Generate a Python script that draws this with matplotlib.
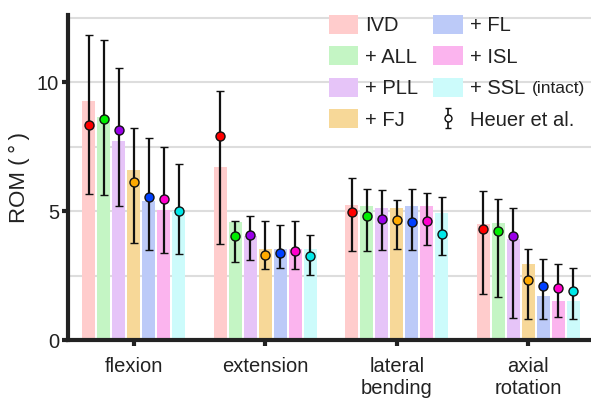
import numpy as np
import matplotlib
matplotlib.use("Agg")
import matplotlib.pyplot as plt
from matplotlib.ticker import MultipleLocator

plt.rcParams['font.family'] = ['Liberation Sans', 'DejaVu Sans']

motions = ["flexion", "extension", "lateral\nbending", "axial\nrotation"]
stages = ["IVD", "+ ALL", "+ PLL", "+ FJ", "+ FL", "+ ISL", "+ SSL"]

# model ROM (bars)
rom_ivd = [9.27, 6.69, 5.24, 4.48]
rom_all = [8.66, 4.56, 5.21, 4.53]
rom_pll = [7.72, 4.03, 5.11, 3.91]
rom_fj = [6.60, 3.54, 5.11, 2.93]
rom_fl = [5.37, 3.54, 5.21, 1.72]
rom_isl = [5.03, 3.54, 5.21, 1.53]
rom_ssl = [5.02, 3.54, 4.93, 1.53]

# Heuer et al. means and whisker ends
heuer_mean = [
    [8.35, 7.90, 4.97, 4.30],
    [8.56, 4.05, 4.81, 4.21],
    [8.13, 4.08, 4.71, 4.04],
    [6.14, 3.31, 4.66, 2.34],
    [5.53, 3.37, 4.57, 2.10],
    [5.48, 3.44, 4.62, 2.03],
    [5.01, 3.24, 4.10, 1.89],
]
heuer_hi = [
    [11.84, 9.65, 6.29, 5.77],
    [11.63, 4.63, 5.86, 5.47],
    [10.55, 4.80, 5.82, 5.11],
    [8.22, 4.60, 5.41, 3.54],
    [7.83, 4.44, 5.87, 3.13],
    [7.49, 4.60, 5.71, 2.93],
    [6.83, 4.09, 5.56, 2.81],
]
heuer_lo = [
    [5.65, 3.73, 3.44, 1.78],
    [5.62, 3.02, 3.44, 1.67],
    [5.21, 3.09, 3.50, 0.86],
    [3.76, 2.74, 3.54, 0.80],
    [3.49, 2.78, 3.50, 0.80],
    [3.38, 2.74, 3.69, 0.90],
    [3.32, 2.51, 3.28, 0.82],
]

bar_colors = ["#ffcccc", "#c4f5c4", "#e6c4f8", "#f7d898", "#bccaf8", "#fbb4ee", "#ccfbfb"]
dot_colors = ["#ff0000", "#00ee00", "#9a00e8", "#ffaa00", "#0040ff", "#ff00cc", "#00e8e8"]
dark = "#222222"

rom = [rom_ivd, rom_all, rom_pll, rom_fj, rom_fl, rom_isl, rom_ssl]
x = np.arange(len(motions))
step = 0.114

fig = plt.figure(figsize=(5.91, 4), dpi=100)
ax = fig.add_axes([68 / 591, 0.15, 523 / 591, 0.8125])

for i in range(len(stages)):
    pos = x + (i - 3) * step
    ax.bar(pos, rom[i], width=0.1, color=bar_colors[i], label=stages[i], zorder=2)
    m = np.array(heuer_mean[i])
    yerr = [m - np.array(heuer_lo[i]), np.array(heuer_hi[i]) - m]
    ax.errorbar(pos, m, yerr=yerr, fmt='o', mfc=dot_colors[i], mec="#111111",
                mew=1.0, ms=6.5, ecolor="#111111", elinewidth=1.6,
                capsize=3, capthick=1.5, zorder=3)

# dummy handle for the legend
ax.errorbar([np.nan], [np.nan], yerr=[[np.nan], [np.nan]], fmt='o', mfc='white',
            mec="#111111", mew=1.0, ms=5, ecolor="#111111", elinewidth=1.2,
            capsize=2.5, capthick=1.2, label="Heuer et al.")

ax.set_xlim(-0.5, 3.477)
ax.set_ylim(0, 12.6)
ax.set_xticks(x)
ax.set_xticklabels(motions, fontsize=14.5, color=dark)
ax.set_yticks([0, 5, 10])
ax.yaxis.set_minor_locator(MultipleLocator(2.5))
ax.tick_params(axis='both', which='major', direction='out', length=4.5, width=3,
               color=dark, labelsize=14.5, labelcolor=dark)
ax.tick_params(axis='x', pad=8)
ax.tick_params(axis='y', pad=2)
ax.tick_params(which='minor', length=0)
ax.grid(axis='y', which='both', color='#dddddd', linewidth=1.5, zorder=0)
ax.set_axisbelow(True)
for s in ['top', 'right']:
    ax.spines[s].set_visible(False)
for s in ['left', 'bottom']:
    ax.spines[s].set_linewidth(3)
    ax.spines[s].set_color(dark)
ax.set_ylabel("ROM (\u2009°\u2009)", fontsize=16, color=dark, labelpad=5)

leg = ax.legend(ncol=2, loc='upper left', bbox_to_anchor=(0.499, 1.0),
                frameon=False, fontsize=14.5, borderpad=0, borderaxespad=0,
                handlelength=1.45, handleheight=1.05, handletextpad=0.35,
                labelspacing=0.56, columnspacing=0.75)
for t in leg.get_texts():
    t.set_color(dark)

# smaller "(intact)" right after the SSL entry (drawn after the legend)
ax.annotate("(intact)", xy=(1, 0), xycoords=leg.get_texts()[6],
            xytext=(5, 1.5), textcoords='offset points', fontsize=12.5,
            color=dark, va='bottom', ha='left', annotation_clip=False,
            zorder=10)

fig.savefig("out.png", dpi=100)
